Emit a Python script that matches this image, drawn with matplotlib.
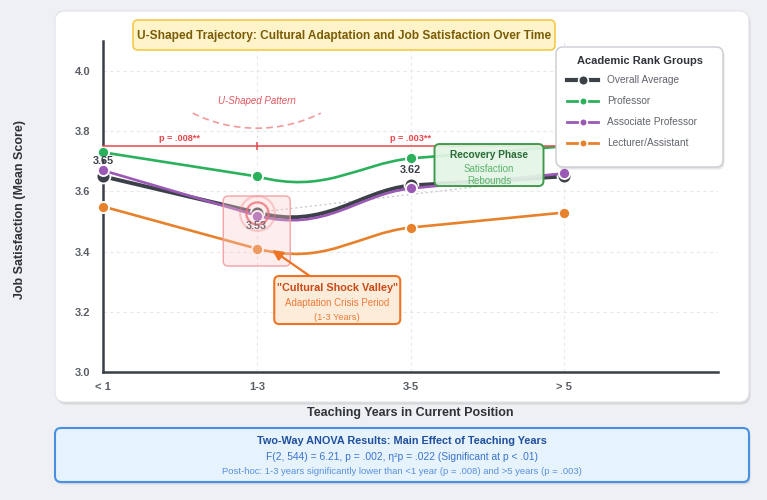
import numpy as np
import matplotlib
matplotlib.use('Agg')
import matplotlib.pyplot as plt
import matplotlib.transforms as mtransforms
from matplotlib.patches import FancyBboxPatch, PathPatch, Arc
from matplotlib.path import Path
from matplotlib.lines import Line2D

plt.rcParams['font.family'] = ['Liberation Sans', 'DejaVu Sans']

# data
years = ['< 1', '1-3', '3-5', '> 5']
overall = [3.65, 3.53, 3.62, 3.65]
professor = [3.73, 3.65, 3.71, 3.75]
associate = [3.67, 3.52, 3.61, 3.66]
lecturer = [3.55, 3.41, 3.48, 3.53]
series_names = ['Overall Average', 'Professor', 'Associate Professor', 'Lecturer/Assistant']
yticks = [3.0, 3.2, 3.4, 3.6, 3.8, 4.0]
overall_labels = {0: '3.65', 1: '3.53', 2: '3.62'}
p_texts = ['p = .008**', 'p = .003**']
bracket_y = 3.75

colors = ['#3c4149', '#2bb15c', '#9b59b6', '#e8812b']
red = '#e8474c'

fig = plt.figure(figsize=(7.67, 5.0), dpi=100)
fig.patch.set_facecolor('#eef0f3')
# figure pixel coords, origin top-left
PX = mtransforms.Affine2D().scale(0.01, -0.01).translate(0, 5.0) + fig.dpi_scale_trans


def px_box(x, y, w, h, r, fc, ec, lw=1.0, z=1, shadow=True):
    if shadow:
        fig.add_artist(FancyBboxPatch((x + 1.5, y + 2.5), w, h,
                                      boxstyle='round,pad=0,rounding_size=%s' % r,
                                      transform=PX, fc='black', ec='none', alpha=0.10, zorder=z - 0.1))
    fig.add_artist(FancyBboxPatch((x, y), w, h, boxstyle='round,pad=0,rounding_size=%s' % r,
                                  transform=PX, fc=fc, ec=ec, lw=lw, zorder=z))


def px_text(x, y, s, **kw):
    fig.text(x, y, s, transform=PX, ha='center', va='center', **kw)


# card
px_box(55, 11, 694, 391, 10, 'white', '#e2e4e8', lw=0.8, z=-2)

ax = fig.add_axes([103 / 767, 1 - 372 / 500, 615 / 767, 331 / 500])
ax.set_facecolor('none')
ax.set_xlim(0, 4)
ax.set_ylim(3.0, 4.1)
x = np.arange(len(years))


def anchor(xd, yd):
    # pixel offsets (y up) around a data point
    return (mtransforms.Affine2D().scale(0.01) + fig.dpi_scale_trans +
            mtransforms.ScaledTranslation(xd, yd, ax.transData))


# grid
for v in yticks[1:]:
    ax.plot([0, 4], [v, v], color='#e6e8eb', lw=0.8, ls=(0, (3, 3)), zorder=0)
for xi in x[1:]:
    ax.plot([xi, xi], [3.0, 4.1], color='#e6e8eb', lw=0.8, ls=(0, (3, 3)), zorder=0)


def draw_series(vals, color, lw, ms, z):
    verts = [(x[0], vals[0]), (x[1], vals[1]),
             (x[1] + 0.45, vals[1] - 0.06), (x[2] - 0.35, vals[2] - 0.02), (x[2], vals[2]),
             (x[3], vals[3])]
    codes = [Path.MOVETO, Path.LINETO, Path.CURVE4, Path.CURVE4, Path.CURVE4, Path.LINETO]
    ax.add_patch(PathPatch(Path(verts, codes), fc='none', ec=color, lw=lw,
                           capstyle='round', joinstyle='round', zorder=z, clip_on=False))
    ax.plot(x, vals, 'o', ms=ms, mfc=color, mec='white', mew=1.3, zorder=z + 0.5, clip_on=False)


# dotted trend from valley to >5
ax.plot([x[1], x[3]], [overall[1], overall[3]], ls=(0, (1.5, 2)), color='#c8cbd0', lw=1, zorder=2)

draw_series(overall, colors[0], 2.8, 10, 3)
draw_series(lecturer, colors[3], 1.9, 8, 4)
draw_series(associate, colors[2], 1.9, 8, 5)
draw_series(professor, colors[1], 1.9, 8, 6)

# significance bracket
ax.plot([x[0], x[3]], [bracket_y, bracket_y], color=red, lw=1.1, zorder=7, clip_on=False)
ax.plot([x[1], x[3]], [bracket_y, bracket_y], ls='none', marker='|', ms=6, mew=1.1,
        color=red, zorder=7)
ax.text((x[0] + x[1]) / 2, bracket_y + 0.027, p_texts[0], color=red, fontsize=6.6,
        fontweight='bold', ha='center', va='center', zorder=8)
ax.text((x[1] + x[3]) / 2, bracket_y + 0.027, p_texts[1], color=red, fontsize=6.6,
        fontweight='bold', ha='center', va='center', zorder=8)

# value labels on overall
for i, lab in overall_labels.items():
    off = -10 if i == 1 else 11
    ax.annotate(lab, (x[i], overall[i]), xytext=(0, off), textcoords='offset points',
                ha='center', va='center', fontsize=7.8, fontweight='bold', color='#3c4149', zorder=9)

# rings + highlight box at valley
ax.plot(x[1], overall[1], 'o', ms=25, mfc='none', mec=(0.92, 0.35, 0.38, 0.35), mew=1.6, zorder=8)
ax.plot(x[1], overall[1], 'o', ms=16, mfc='none', mec=(0.9, 0.25, 0.3, 0.8), mew=1.6, zorder=8)
ax.add_patch(FancyBboxPatch((-33.5, -53.5), 67, 70, boxstyle='round,pad=0,rounding_size=5',
                            transform=anchor(x[1], overall[1]), fc=(0.98, 0.8, 0.8, 0.35),
                            ec=(0.95, 0.6, 0.62, 0.9), lw=1.0, zorder=10, clip_on=False))

# U-shaped pattern note
ta = anchor(x[1], 3.9)
ax.text(0, 0, 'U-Shaped Pattern', transform=ta, ha='center', va='center', fontsize=7,
        style='italic', color='#e0585e')
ax.add_patch(Arc((0, 117), 288, 288, theta1=243.6, theta2=296.4, transform=ta,
                 color='#f19a9d', lw=1.2, ls=(0, (4, 2.5)), clip_on=False))

# cultural shock valley callout
tv = anchor(x[1], lecturer[1])
ax.annotate('', xy=(15.5, -1.4), xycoords=tv, xytext=(54.5, -28.4), textcoords=tv,
            arrowprops=dict(arrowstyle='-|>', color='#ec7424', lw=1.6, mutation_scale=15,
                            shrinkA=0, shrinkB=0), zorder=11)
ax.add_patch(FancyBboxPatch((17.5, -75.4), 126, 48, boxstyle='round,pad=0,rounding_size=5',
                            transform=tv, fc='#fdecd9', ec='#ec7424', lw=1.5, zorder=12, clip_on=False))
ax.text(80.5, -39.4, '"Cultural Shock Valley"', transform=tv, ha='center', va='center',
        fontsize=7.8, fontweight='bold', color='#c94b1a', zorder=13)
ax.text(80.5, -54.4, 'Adaptation Crisis Period', transform=tv, ha='center', va='center',
        fontsize=7.0, color='#ee7b3a', zorder=13)
ax.text(80.5, -68.4, '(1-3 Years)', transform=tv, ha='center', va='center',
        fontsize=6.7, color='#ee7b3a', zorder=13)

# recovery callout
tr = anchor(x[2], overall[2])
ax.add_patch(FancyBboxPatch((24, -0.6), 109, 42, boxstyle='round,pad=0,rounding_size=5',
                            transform=tr, fc=(0.89, 0.96, 0.9, 0.92), ec='#3f9a4c', lw=1.4,
                            zorder=12, clip_on=False))
ax.text(78.5, 30.4, 'Recovery Phase', transform=tr, ha='center', va='center',
        fontsize=7.3, fontweight='bold', color='#2c6b36', zorder=13)
ax.text(78.5, 16.4, 'Satisfaction', transform=tr, ha='center', va='center',
        fontsize=7.0, color='#5cb46a', zorder=13)
ax.text(78.5, 4.4, 'Rebounds', transform=tr, ha='center', va='center',
        fontsize=7.0, color='#5cb46a', zorder=13)

# axes styling
ax.set_xticks(x)
ax.set_xticklabels(years)
ax.set_yticks(yticks)
ax.set_yticklabels(['%.1f' % v for v in yticks])
ax.tick_params(axis='both', length=0, labelsize=8, labelcolor='#5a5f66')
ax.tick_params(axis='y', pad=9)
ax.tick_params(axis='x', pad=7)
for lab in ax.get_xticklabels() + ax.get_yticklabels():
    lab.set_fontweight('bold')
for s in ['top', 'right']:
    ax.spines[s].set_visible(False)
for s in ['left', 'bottom']:
    ax.spines[s].set_color('#3a3f47')
    ax.spines[s].set_linewidth(1.8)
ax.set_ylabel('Job Satisfaction (Mean Score)', fontsize=9, fontweight='bold', color='#2f333a')
ax.yaxis.set_label_coords(-0.135, 0.49)
ax.yaxis.label.set_va('center')
ax.set_xlabel('Teaching Years in Current Position', fontsize=9, fontweight='bold', color='#2f333a')
ax.xaxis.set_label_coords(0.5, -0.124)
ax.xaxis.label.set_va('center')

# title box
px_box(133, 20, 422, 30, 5, '#fff4c9', '#f4c94a', lw=1.2, z=5, shadow=False)
px_text(344, 35.5, 'U-Shaped Trajectory: Cultural Adaptation and Job Satisfaction Over Time',
        fontsize=8.6, fontweight='bold', color='#7a5c08', zorder=6)

# legend
px_box(556, 47, 167, 120, 7, 'white', '#c9ccd2', lw=1.0, z=5)
px_text(640, 61, 'Academic Rank Groups', fontsize=8, fontweight='bold', color='#2f333a', zorder=6)
for i, (name, col) in enumerate(zip(series_names, colors)):
    yy = 80 + 21 * i
    fig.add_artist(Line2D([567, 598], [yy, yy], transform=PX, color=col,
                          lw=3.0 if i == 0 else 2.0, zorder=6))
    fig.add_artist(Line2D([582.5], [yy], transform=PX, marker='o', ms=7 if i == 0 else 5.5,
                          mfc=col, mec='white', mew=1.2, color=col, zorder=6.5))
    fig.text(607, yy, name, transform=PX, ha='left', va='center', fontsize=7.3,
             color='#60656c', zorder=6)

# ANOVA box
px_box(55, 428, 694, 54, 6, '#e6f3fd', '#4a90e2', lw=1.5, z=5)
px_text(402, 441, 'Two-Way ANOVA Results: Main Effect of Teaching Years',
        fontsize=7.8, fontweight='bold', color='#1f4f9e', zorder=6)
px_text(402, 457, 'F(2, 544) = 6.21, p = .002, η²p = .022 (Significant at p < .01)',
        fontsize=7.4, color='#3b74cc', zorder=6)
px_text(402, 472, 'Post-hoc: 1-3 years significantly lower than <1 year (p = .008) and >5 years (p = .003)',
        fontsize=6.8, color='#5a90dc', zorder=6)

fig.savefig('out.png', dpi=100, facecolor=fig.get_facecolor())
